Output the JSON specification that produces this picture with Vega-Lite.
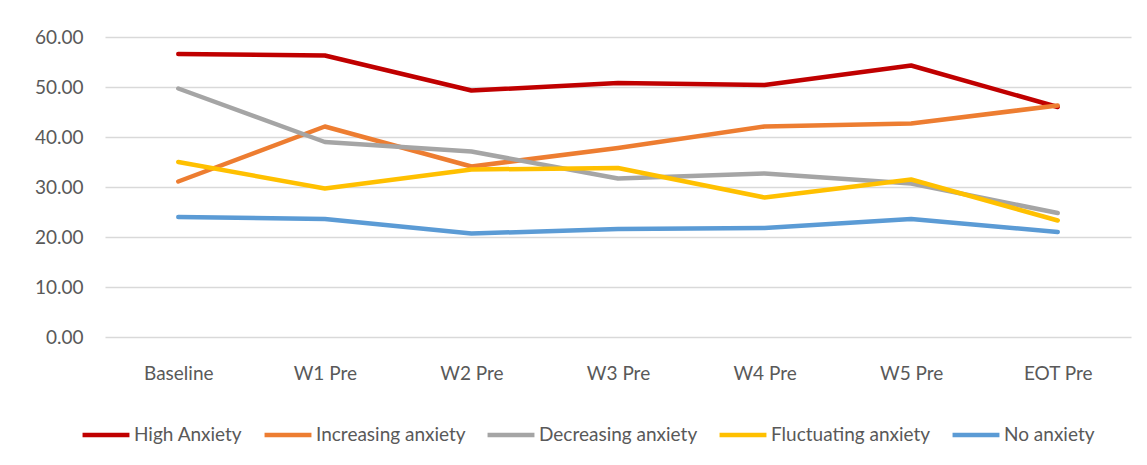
{
  "$schema": "https://vega.github.io/schema/vega-lite/v6.json",
  "width": 1026,
  "height": 300,
  "autosize": {"type": "none"},
  "padding": {"left": 105, "top": 37, "right": 16, "bottom": 128},
  "background": "white",
  "config": {
    "font": "Lato",
    "view": {"stroke": null}
  },
  "data": {
    "values": [
      {"time": "Baseline", "group": "High Anxiety", "value": 56.6},
      {"time": "W1 Pre", "group": "High Anxiety", "value": 56.3},
      {"time": "W2 Pre", "group": "High Anxiety", "value": 49.3},
      {"time": "W3 Pre", "group": "High Anxiety", "value": 50.8},
      {"time": "W4 Pre", "group": "High Anxiety", "value": 50.4},
      {"time": "W5 Pre", "group": "High Anxiety", "value": 54.3},
      {"time": "EOT Pre", "group": "High Anxiety", "value": 46.0},
      {"time": "Baseline", "group": "Increasing anxiety", "value": 31.1},
      {"time": "W1 Pre", "group": "Increasing anxiety", "value": 42.1},
      {"time": "W2 Pre", "group": "Increasing anxiety", "value": 34.1},
      {"time": "W3 Pre", "group": "Increasing anxiety", "value": 37.8},
      {"time": "W4 Pre", "group": "Increasing anxiety", "value": 42.1},
      {"time": "W5 Pre", "group": "Increasing anxiety", "value": 42.7},
      {"time": "EOT Pre", "group": "Increasing anxiety", "value": 46.3},
      {"time": "Baseline", "group": "Decreasing anxiety", "value": 49.7},
      {"time": "W1 Pre", "group": "Decreasing anxiety", "value": 39.0},
      {"time": "W2 Pre", "group": "Decreasing anxiety", "value": 37.1},
      {"time": "W3 Pre", "group": "Decreasing anxiety", "value": 31.7},
      {"time": "W4 Pre", "group": "Decreasing anxiety", "value": 32.7},
      {"time": "W5 Pre", "group": "Decreasing anxiety", "value": 30.7},
      {"time": "EOT Pre", "group": "Decreasing anxiety", "value": 24.8},
      {"time": "Baseline", "group": "Fluctuating anxiety", "value": 35.0},
      {"time": "W1 Pre", "group": "Fluctuating anxiety", "value": 29.7},
      {"time": "W2 Pre", "group": "Fluctuating anxiety", "value": 33.5},
      {"time": "W3 Pre", "group": "Fluctuating anxiety", "value": 33.8},
      {"time": "W4 Pre", "group": "Fluctuating anxiety", "value": 27.9},
      {"time": "W5 Pre", "group": "Fluctuating anxiety", "value": 31.5},
      {"time": "EOT Pre", "group": "Fluctuating anxiety", "value": 23.3},
      {"time": "Baseline", "group": "No anxiety", "value": 24.0},
      {"time": "W1 Pre", "group": "No anxiety", "value": 23.6},
      {"time": "W2 Pre", "group": "No anxiety", "value": 20.7},
      {"time": "W3 Pre", "group": "No anxiety", "value": 21.6},
      {"time": "W4 Pre", "group": "No anxiety", "value": 21.8},
      {"time": "W5 Pre", "group": "No anxiety", "value": 23.6},
      {"time": "EOT Pre", "group": "No anxiety", "value": 21.0}
    ]
  },
  "mark": {"type": "line", "strokeWidth": 4.5, "strokeCap": "round", "strokeJoin": "round"},
  "encoding": {
    "x": {
      "field": "time",
      "type": "ordinal",
      "sort": ["Baseline", "W1 Pre", "W2 Pre", "W3 Pre", "W4 Pre", "W5 Pre", "EOT Pre"],
      "scale": {"type": "point", "padding": 0.5},
      "axis": {
        "title": null,
        "labelAngle": 0,
        "domain": false,
        "ticks": false,
        "grid": false,
        "labelFontSize": 19,
        "labelColor": "#595959",
        "labelPadding": 27
      }
    },
    "y": {
      "field": "value",
      "type": "quantitative",
      "scale": {"domain": [0, 60], "nice": false},
      "axis": {
        "title": null,
        "values": [0, 10, 20, 30, 40, 50, 60],
        "format": ".2f",
        "domain": false,
        "ticks": false,
        "grid": true,
        "gridColor": "#d9d9d9",
        "gridWidth": 1.3,
        "labelFontSize": 19,
        "labelColor": "#595959",
        "labelPadding": 22
      }
    },
    "color": {
      "field": "group",
      "type": "nominal",
      "scale": {
        "domain": ["High Anxiety", "Increasing anxiety", "Decreasing anxiety", "Fluctuating anxiety", "No anxiety"],
        "range": ["#C00000", "#ED7D31", "#A5A5A5", "#FFC000", "#5B9BD5"]
      },
      "legend": {
        "title": null,
        "orient": "none",
        "direction": "horizontal",
        "legendX": -25,
        "legendY": 372,
        "symbolType": "stroke",
        "symbolSize": 2200,
        "symbolStrokeWidth": 4.5,
        "labelFontSize": 19,
        "labelColor": "#595959",
        "labelOffset": 2,
        "columnPadding": 12
      }
    }
  }
}
